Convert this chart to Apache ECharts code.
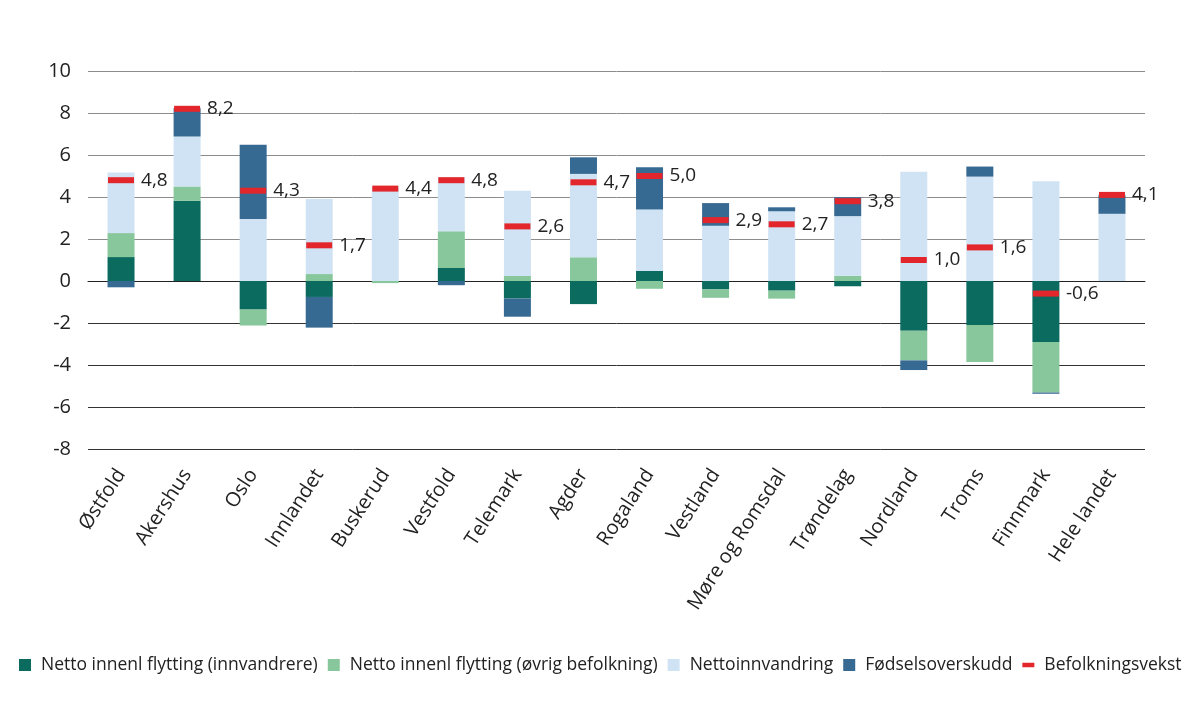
<!DOCTYPE html>
<html>
<head>
<meta charset="utf-8">
<script src="https://cdn.jsdelivr.net/npm/echarts@6/dist/echarts.min.js"></script>
<style>
  html, body { margin: 0; padding: 0; background: #fff; }
  #chart { width: 1200px; height: 711px; }
</style>
</head>
<body>
<div id="chart"></div>
<script>
// fylker
const categories = ['Østfold', 'Akershus', 'Oslo', 'Innlandet', 'Buskerud', 'Vestfold', 'Telemark', 'Agder',
  'Rogaland', 'Vestland', 'Møre og Romsdal', 'Trøndelag', 'Nordland', 'Troms', 'Finnmark', 'Hele landet'];

const innvandrere = [1.14, 3.82, -1.36, -0.76, 0, 0.62, -0.83, -1.1, 0.48, -0.4, -0.46, -0.25, -2.37, -2.1, -2.9, 0];
const ovrigBefolkning = [1.14, 0.68, -0.76, 0.33, -0.1, 1.75, 0.24, 1.13, -0.37, -0.4, -0.38, 0.25, -1.41, -1.76, -2.41, 0];
const nettoinnvandring = [2.89, 2.38, 2.95, 3.57, 4.5, 2.58, 4.06, 3.97, 2.92, 2.63, 3.32, 2.84, 5.2, 4.97, 4.75, 3.2];
const fodselsoverskudd = [-0.3, 1.35, 3.54, -1.46, 0, -0.2, -0.87, 0.79, 2.02, 1.08, 0.19, 0.9, -0.46, 0.48, -0.06, 0.9];
const befolkningsvekst = [4.8, 8.2, 4.3, 1.7, 4.4, 4.8, 2.6, 4.7, 5.0, 2.9, 2.7, 3.8, 1.0, 1.6, -0.6, 4.1];

const yTicks = [-8, -6, -4, -2, 0, 2, 4, 6, 8, 10];

const font = '"Open Sans", "Noto Sans", sans-serif';

function barSeries(name, data, color) {
  return {
    name: name,
    type: 'bar',
    stack: 'total',
    barWidth: 27,
    data: data,
    itemStyle: { color: color },
    emphasis: { disabled: true }
  };
}

const chart = echarts.init(document.getElementById('chart'));
chart.setOption({
  animation: false,
  textStyle: { fontFamily: font },
  grid: { left: 88, right: 55, top: 71, bottom: 262, containLabel: false },
  legend: {
    left: 14,
    top: 651,
    itemWidth: 12,
    itemHeight: 12,
    itemGap: 10,
    textStyle: { fontSize: 17.5, color: '#222', fontFamily: font, padding: [0, 0, 0, 5] },
    data: [
      { name: 'Netto innenl flytting (innvandrere)', icon: 'rect' },
      { name: 'Netto innenl flytting (øvrig befolkning)', icon: 'rect' },
      { name: 'Nettoinnvandring', icon: 'rect' },
      { name: 'Fødselsoverskudd', icon: 'rect' },
      { name: 'Befolkningsvekst', icon: 'path://M0,0 L16,0 L16,6 L0,6 Z' }
    ]
  },
  xAxis: {
    type: 'category',
    data: categories,
    axisLine: { onZero: true, lineStyle: { color: '#222', width: 1 } },
    axisTick: { show: false },
    axisLabel: {
      interval: 0,
      rotate: 57,
      fontSize: 20,
      color: '#222',
      margin: 22,
      fontFamily: font
    }
  },
  yAxis: {
    type: 'value',
    min: yTicks[0],
    max: yTicks[yTicks.length - 1],
    interval: 2,
    axisLine: { show: false },
    axisTick: { show: false },
    axisLabel: { fontSize: 20, color: '#222', margin: 17, fontFamily: font },
    splitLine: {
      lineStyle: {
        color: ['#333', '#333', '#333', '#333', '#333', '#8c8c8c', '#8c8c8c', '#8c8c8c', '#8c8c8c', '#8c8c8c'],
        width: 1
      }
    }
  },
  series: [
    barSeries('Netto innenl flytting (innvandrere)', innvandrere, '#0b6b5f'),
    barSeries('Netto innenl flytting (øvrig befolkning)', ovrigBefolkning, '#88c79b'),
    barSeries('Nettoinnvandring', nettoinnvandring, '#cfe3f4'),
    barSeries('Fødselsoverskudd', fodselsoverskudd, '#376a93'),
    {
      name: 'Befolkningsvekst',
      type: 'line',
      data: befolkningsvekst,
      symbol: 'rect',
      symbolSize: [26, 6],
      lineStyle: { width: 0, opacity: 0 },
      itemStyle: { color: '#e3262b' },
      z: 5,
      emphasis: { disabled: true },
      label: {
        show: true,
        position: 'right',
        distance: 7,
        fontSize: 19,
        color: '#222',
        fontFamily: font,
        formatter: p => p.value.toFixed(1).replace('.', ',')
      }
    }
  ]
});
</script>
</body>
</html>
